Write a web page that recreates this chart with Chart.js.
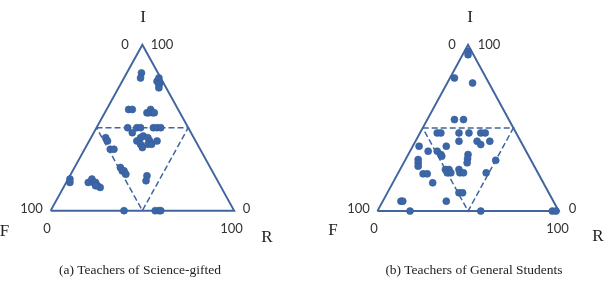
<!DOCTYPE html>
<html>
<head>
<meta charset="utf-8">
<script src="https://cdn.jsdelivr.net/npm/chart.js@4.4.0/dist/chart.umd.min.js"></script>
<style>
  html, body { margin: 0; padding: 0; background: #fff; }
  #page { position: relative; width: 605px; height: 281px; overflow: hidden; }
  canvas { position: absolute; top: 0; }
  .lbl { position: absolute; transform: translate(-50%, -50%); white-space: nowrap; line-height: 1; }
  .axis { font-family: "Liberation Serif", serif; font-size: 17px; color: #222; }
  .num { font-family: Lato, "Liberation Sans", sans-serif; font-size: 13px; color: #333; }
  .cap { font-family: "Liberation Serif", serif; font-size: 13.5px; color: #222; }
</style>
</head>
<body>
<div id="page">
  <canvas id="chart-a" width="302" height="281" style="left:0px"></canvas>
  <canvas id="chart-b" width="303" height="281" style="left:302px"></canvas>
</div>
<script>
// Ternary data: I and R shares (%), F = the rest
const scienceI = [83, 80, 78, 80, 77, 76, 74, 61, 61, 59, 59, 61, 59, 59,
  50, 47, 50, 50, 50, 50, 50, 42, 44, 45, 44, 42, 42, 40, 38, 40, 40,
  44, 42, 37, 37, 26, 24, 24, 22, 21, 18, 19, 17,
  17, 19, 17, 17, 15, 14, 15, 0, 0, 0, 0];
const scienceR = [8, 9, 19, 19, 21, 21, 22, 12, 14, 23, 24, 24, 26, 27,
  17, 21, 22, 24, 31, 33, 35, 26, 27, 28, 31, 33, 37, 29, 31, 33, 35,
  8, 10, 14, 16, 25, 27, 28, 30, 42, 43, 1, 2,
  12, 13, 15, 16, 18, 20, 17, 40, 57, 59, 60];

const generalI = [96, 94, 80, 77, 55, 55, 47, 47, 47, 47, 47, 47,
  39, 39, 42, 42, 40, 42, 36, 36, 34, 33, 31, 29, 27, 34, 31.5, 29,
  30.5, 22.4, 22.4, 25, 25, 23, 23, 25, 23, 23, 23, 17, 11, 11,
  6, 6, 6, 0, 0, 0, 0];
const generalR = [2, 3, 2.5, 14, 15, 20, 9.5, 11.5, 21.5, 27, 33.5, 36,
  3.5, 18.5, 24, 34, 37, 41, 10, 15, 18, 19, 7, 8, 9, 33, 34, 35,
  50, 14, 16.3, 25, 27, 27, 29, 32.5, 34, 36, 48.5, 22, 39.5, 41.5,
  10, 11, 35, 18, 57, 96.5, 98.5];

const axisNames = ['I', 'F', 'R'];
const scaleEnds = ['0', '100'];
const captions = ['(a)  Teachers of Science-gifted', '(b)  Teachers of General Students'];

const DOT = '#3d66a6';
const LINE = '#40659f';

// corner coords in ternary space: x = R + I/2, y = I
function toXY(iVals, rVals) {
  return iVals.map((v, k) => ({ x: rVals[k] + v / 2, y: v }));
}

// frame: pixel position of the triangle inside the canvas
function createTernary(id, iVals, rVals, frame) {
  const ctx = document.getElementById(id);
  const pxX = frame.width / 100, pxY = frame.height / 100;
  const xmin = -frame.left / pxX;
  const ymax = frame.base / pxY;

  new Chart(ctx, {
    type: 'scatter',
    data: {
      datasets: [
        {
          data: toXY(iVals, rVals),
          backgroundColor: DOT,
          borderColor: '#335c9c',
          borderWidth: 0.6,
          pointRadius: 3.5,
          order: 0
        },
        {
          data: [{x: 25, y: 50}, {x: 75, y: 50}, {x: 50, y: 0}, {x: 25, y: 50}],
          showLine: true,
          borderColor: LINE,
          borderWidth: 1.5,
          borderDash: [6, 3],
          pointRadius: 0,
          order: 2
        },
        {
          data: [{x: 0, y: 0}, {x: 100, y: 0}, {x: 50, y: 100}, {x: 0, y: 0}],
          showLine: true,
          borderColor: LINE,
          borderWidth: 2,
          pointRadius: 0,
          order: 1
        }
      ]
    },
    options: {
      responsive: false,
      animation: false,
      devicePixelRatio: 1,
      layout: { padding: 0 },
      plugins: { legend: { display: false }, tooltip: { enabled: false } },
      scales: {
        x: { type: 'linear', display: false, min: xmin, max: xmin + ctx.width / pxX },
        y: { type: 'linear', display: false, min: ymax - ctx.height / pxY, max: ymax }
      }
    }
  });
}

createTernary('chart-a', scienceI, scienceR, { left: 47.5, base: 213, width: 189.2, height: 171.5 });
createTernary('chart-b', generalI, generalR, { left: 73, base: 213.5, width: 187, height: 172 });

// labels around the triangles
const page = document.getElementById('page');
function addLabel(text, cls, x, y) {
  const el = document.createElement('div');
  el.className = 'lbl ' + cls;
  el.textContent = text;
  el.style.left = x + 'px';
  el.style.top = y + 'px';
  page.appendChild(el);
}

[0, 327].forEach(dx => {
  const k = dx ? 1 : 0;
  addLabel(axisNames[0], 'axis', 143 + dx, 16);
  addLabel(scaleEnds[0], 'num', 125 + dx, 44);
  addLabel(scaleEnds[1], 'num', 162 + dx, 44);
  addLabel(scaleEnds[1], 'num', 31.5 + dx, 208);
  addLabel(scaleEnds[0], 'num', 47 + dx, 227.5);
  addLabel(scaleEnds[0], 'num', 246.5 + dx - 1 * k, 207.5);
  addLabel(scaleEnds[1], 'num', 231.5 + dx - 1 * k, 227.5);
});
addLabel(axisNames[1], 'axis', 4.5, 230);
addLabel(axisNames[2], 'axis', 267, 236);
addLabel(axisNames[1], 'axis', 333, 229);
addLabel(axisNames[2], 'axis', 598, 235);
addLabel(captions[0], 'cap', 140, 270);
addLabel(captions[1], 'cap', 474, 270);
</script>
</body>
</html>
